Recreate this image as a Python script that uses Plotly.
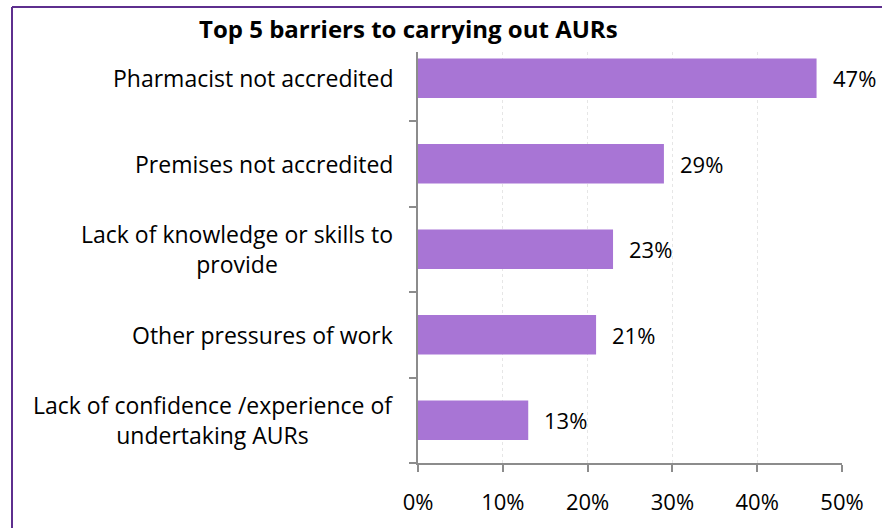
import plotly.graph_objects as go

# Survey results: share of respondents citing each barrier
categories = [
    "Pharmacist not accredited",
    "Premises not accredited",
    "Lack of knowledge or skills to<br>provide",
    "Other pressures of work",
    "Lack of confidence /experience of<br>undertaking AURs",
]
values = [47, 29, 23, 21, 13]
x_ticks = [0, 10, 20, 30, 40, 50]
x_tick_labels = ["0%", "10%", "20%", "30%", "40%", "50%"]
title_text = "Top 5 barriers to carrying out AURs"

FONT = "Open Sans, Calibri, sans-serif"
BAR_COLOR = "#A875D5"
AXIS_COLOR = "#8C8C8C"

# draw the first category at the top
cats_bottom_up = categories[::-1]
vals_bottom_up = values[::-1]

W, H = 882, 528
ML, MR, MT, MB = 418, 40, 52, 65
PW, PH = W - ML - MR, H - MT - MB


def px_x(p):
    return (p - ML) / PW


def px_y(p):
    return (H - MB - p) / PH


fig = go.Figure()
fig.add_trace(go.Bar(
    x=vals_bottom_up,
    y=cats_bottom_up,
    orientation="h",
    marker=dict(color=BAR_COLOR, line=dict(width=0)),
    width=0.46,
    hoverinfo="skip",
))

annotations = []
# value labels beside each bar
for c, v in zip(cats_bottom_up, vals_bottom_up):
    annotations.append(dict(
        x=v, y=c, xref="x", yref="y", text=f"{v}%",
        showarrow=False, xanchor="left", yanchor="middle", xshift=14,
        font=dict(family=FONT, size=22, color="#000000"),
    ))
# category labels, each line centred
for c in cats_bottom_up:
    annotations.append(dict(
        x=0, y=c, xref="paper", yref="y", text=c,
        showarrow=False, xanchor="right", yanchor="middle", align="center",
        xshift=-23,
        font=dict(family=FONT, size=23, color="#000000"),
    ))
# title
annotations.append(dict(
    x=px_x(408), y=px_y(29), xref="paper", yref="paper", text=f"<b>{title_text}</b>",
    showarrow=False, xanchor="center", yanchor="middle",
    font=dict(family=FONT, size=24, color="#000000"),
))

shapes = [
    # frame on the top and left edges
    dict(type="line", xref="paper", yref="paper",
         x0=px_x(12), x1=px_x(W + 5), y0=px_y(7), y1=px_y(7),
         line=dict(color="#5E2F8E", width=2)),
    dict(type="line", xref="paper", yref="paper",
         x0=px_x(12), x1=px_x(12), y0=px_y(7), y1=px_y(H + 5),
         line=dict(color="#5E2F8E", width=2)),
]

fig.update_layout(
    width=W, height=H,
    margin=dict(l=ML, r=MR, t=MT, b=MB),
    paper_bgcolor="white", plot_bgcolor="white",
    showlegend=False,
    bargap=0.5,
    annotations=annotations,
    shapes=shapes,
    font=dict(family=FONT, size=22, color="#000000"),
)
fig.update_xaxes(
    range=[0, 50],
    tickvals=x_ticks, ticktext=x_tick_labels,
    showgrid=True, gridcolor="#E6E6E6", griddash="3px,3px", gridwidth=1,
    zeroline=False,
    showline=True, linecolor=AXIS_COLOR, linewidth=2,
    ticks="outside", ticklen=7, tickcolor=AXIS_COLOR, tickwidth=2,
    ticklabelstandoff=12,
    tickfont=dict(family=FONT, size=22, color="#000000"),
    fixedrange=True,
)
fig.update_yaxes(
    type="category",
    categoryorder="array", categoryarray=cats_bottom_up,
    range=[-0.5, 4.307],
    showticklabels=False,
    showgrid=False, zeroline=False,
    showline=True, linecolor=AXIS_COLOR, linewidth=2,
    ticks="outside", tickson="boundaries", ticklen=7,
    tickcolor=AXIS_COLOR, tickwidth=2,
    fixedrange=True,
)

fig.write_html("out.html", config={"displayModeBar": False})
